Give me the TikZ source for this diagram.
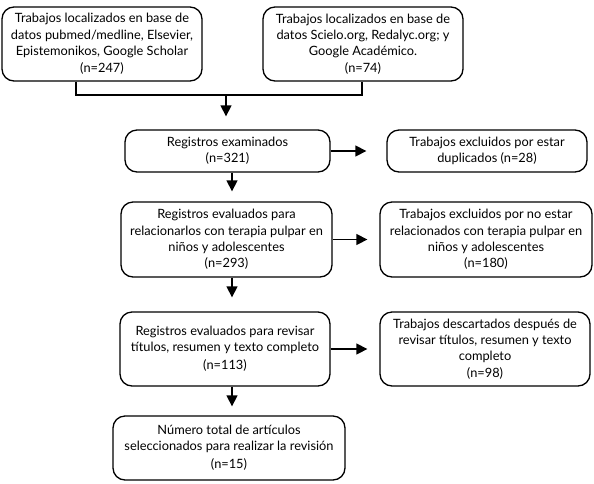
\documentclass[tikz,border=0pt]{standalone}
\usepackage{fontspec}
\setmainfont{Lato}
\usetikzlibrary{arrows.meta}
\begin{document}
\begin{tikzpicture}[x=1pt,y=-1pt,
  box/.style={draw,line width=1.3pt,rounded corners=12pt,align=center,inner sep=1pt,
    font=\fontsize{12.8}{16.2}\selectfont},
  arr/.style={line width=1.3pt,-{Triangle[length=11pt,width=11pt]}},
  ln/.style={line width=1.3pt}]
\useasboundingbox (0,0) rectangle (594,483);
\node[box,minimum width=200pt,minimum height=74pt] (b1) at (102,44)
  {Trabajos localizados en base de\\datos pubmed/medline, Elsevier,\\Epistemonikos, Google Scholar\\[1pt](n=247)};
\node[box,minimum width=200pt,minimum height=74pt] (b2) at (363,44)
  {Trabajos localizados en base de\\datos Scielo.org, Redalyc.org; y\\Google Académico.\\(n=74)};
\node[box,minimum width=205pt,minimum height=42pt] (b3) at (227.5,151)
  {Registros examinados\\(n=321)};
\node[box,minimum width=200pt,minimum height=42pt] (b4) at (487,151)
  {Trabajos excluidos por estar\\duplicados (n=28)};
\node[box,minimum width=211pt,minimum height=75pt] (b5) at (226.5,239.5)
  {Registros evaluados para\\relacionarlos con terapia pulpar en\\niños y adolescentes\\(n=293)};
\node[box,minimum width=212pt,minimum height=75pt] (b6) at (486,239.5)
  {Trabajos excluidos por no estar\\relacionados con terapia pulpar en\\niños y adolescentes\\(n=180)};
\node[box,minimum width=210pt,minimum height=74pt] (b7) at (225,349)
  {Registros evaluados para revisar\\títulos, resumen y texto completo\\[2pt](n=113)};
\node[box,minimum width=210pt,minimum height=74pt] (b8) at (485,349)
  {Trabajos descartados después de\\revisar títulos, resumen y texto\\completo\\(n=98)};
\node[box,minimum width=232pt,minimum height=64pt] (b9) at (229,448)
  {Número total de artículos\\seleccionados para realizar la revisión\\[2pt](n=15)};
\coordinate (j1) at (76,95);
\coordinate (j2) at (362,95);
\coordinate (jm) at (226,95);
\coordinate (col) at (232,0);
\draw[ln] (b1.south -| j1) -- (j1) -- (j2) -- (b2.south -| j2);
\draw[arr,shorten >=13pt] (jm) -- (b3.north -| jm);
\draw[arr,shorten >=20pt] (b3.east) -- (b4.west);
\draw[arr,shorten >=10pt] (b3.south -| col) -- (b5.north -| col);
\draw[arr,shorten >=12pt] (b5.east) -- (b6.west);
\draw[arr,shorten >=14pt] (b5.south -| col) -- (b7.north -| col);
\draw[arr,shorten >=12pt] (b7.east) -- (b8.west);
\draw[arr,shorten >=9pt] (b7.south -| col) -- (b9.north -| col);
\end{tikzpicture}
\end{document}
